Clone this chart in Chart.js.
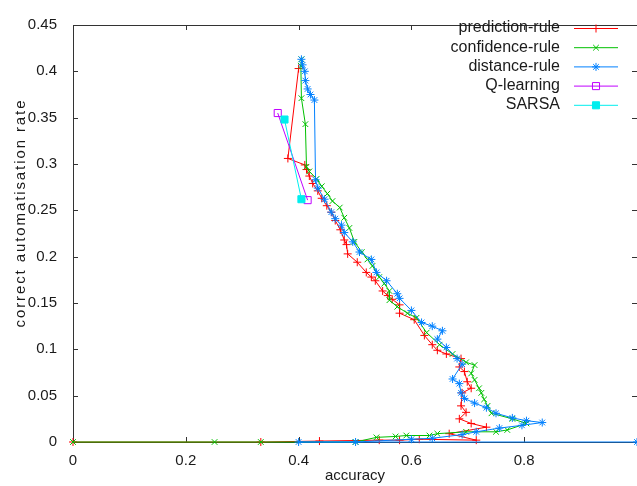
<!DOCTYPE html>
<html lang="en">
<head>
<meta charset="UTF-8">
<title>Accuracy vs correct automatisation rate</title>
<script src="https://cdn.jsdelivr.net/npm/chart.js"></script>
<style>
  html, body { margin: 0; padding: 0; background: #fff; }
  #wrap { width: 637px; height: 486px; }
</style>
</head>
<body>
<div id="wrap"><canvas id="chart" width="637" height="486"></canvas></div>
<script>
// values
const seriesNames = ['prediction-rule', 'confidence-rule', 'distance-rule', 'Q-learning', 'SARSA'];
const seriesColors = ['#ff0000', '#00c000', '#0080ff', '#c000ff', '#00eeee'];

const predictionAcc = [0.400, 0.381, 0.411, 0.414, 0.419, 0.425, 0.434, 0.441, 0.450, 0.458, 0.465, 0.474, 0.481, 0.485, 0.487, 0.504, 0.520, 0.529, 0.536, 0.549, 0.558, 0.566, 0.579, 0.579, 0.605, 0.623, 0.637, 0.646, 0.662, 0.688, 0.685, 0.694, 0.699, 0.706, 0.690, 0.688, 0.697, 0.685, 0.706, 0.733, 0.667, 0.715, 0.614, 0.579, 0.543, 0.437, 0.333, 0];
const predictionRate = [0.403, 0.306, 0.299, 0.294, 0.287, 0.279, 0.271, 0.263, 0.255, 0.248, 0.239, 0.229, 0.218, 0.213, 0.203, 0.194, 0.183, 0.178, 0.174, 0.163, 0.158, 0.154, 0.148, 0.139, 0.132, 0.115, 0.105, 0.099, 0.095, 0.090, 0.081, 0.076, 0.065, 0.058, 0.053, 0.039, 0.032, 0.025, 0.020, 0.016, 0.009, 0.002, 0.003, 0.002, 0.002, 0.001, 0, 0];

const confidenceAcc = [0.405, 0.404, 0.405, 0.412, 0.414, 0.419, 0.432, 0.441, 0.451, 0.460, 0.473, 0.481, 0.490, 0.499, 0.512, 0.522, 0.531, 0.543, 0.552, 0.561, 0.561, 0.575, 0.593, 0.609, 0.627, 0.650, 0.673, 0.697, 0.712, 0.706, 0.712, 0.720, 0.724, 0.729, 0.735, 0.742, 0.779, 0.804, 0.770, 0.750, 0.697, 0.646, 0.632, 0.591, 0.572, 0.538, 0.501, 0.333, 0.251, 0];
const confidenceRate = [0.413, 0.406, 0.371, 0.343, 0.297, 0.292, 0.284, 0.276, 0.268, 0.260, 0.253, 0.242, 0.231, 0.216, 0.205, 0.197, 0.190, 0.178, 0.171, 0.163, 0.153, 0.146, 0.139, 0.134, 0.118, 0.105, 0.095, 0.086, 0.083, 0.074, 0.067, 0.058, 0.053, 0.046, 0.039, 0.031, 0.025, 0.020, 0.013, 0.011, 0.011, 0.009, 0.007, 0.007, 0.006, 0.005, 0, 0, 0, 0];

const distanceAcc = [0.405, 0.407, 0.411, 0.412, 0.416, 0.421, 0.428, 0.430, 0.434, 0.446, 0.458, 0.465, 0.476, 0.481, 0.496, 0.508, 0.529, 0.538, 0.556, 0.575, 0.579, 0.600, 0.618, 0.637, 0.655, 0.646, 0.662, 0.681, 0.690, 0.673, 0.685, 0.688, 0.694, 0.712, 0.733, 0.750, 0.779, 0.804, 0.832, 0.796, 0.756, 0.715, 0.690, 0.637, 0.600, 0.501, 0.400, 1.0];
const distanceRate = [0.413, 0.407, 0.400, 0.390, 0.381, 0.375, 0.369, 0.283, 0.274, 0.262, 0.248, 0.241, 0.234, 0.226, 0.216, 0.205, 0.197, 0.183, 0.174, 0.160, 0.155, 0.142, 0.129, 0.125, 0.120, 0.111, 0.102, 0.090, 0.084, 0.068, 0.063, 0.053, 0.047, 0.042, 0.037, 0.031, 0.026, 0.023, 0.021, 0.018, 0.015, 0.011, 0.008, 0.004, 0.003, 0, 0, 0];

const qlearningAcc = [0.363, 0.416];
const qlearningRate = [0.355, 0.261];

const sarsaAcc = [0.375, 0.405];
const sarsaRate = [0.348, 0.262];

const xTicks = [0, 0.2, 0.4, 0.6, 0.8, 1];
const yTicks = [0, 0.05, 0.1, 0.15, 0.2, 0.25, 0.3, 0.35, 0.4, 0.45];
const yTitle = 'correct automatisation rate';

const FONT = 'Liberation Sans, Arial, sans-serif';
const TEXT = '#1a1a1a';

function toPoints(xs, ys) {
    return xs.map((x, i) => ({ x: x, y: ys[i] }));
}

function makeSet(i, xs, ys, style, extra) {
    return Object.assign({
        label: seriesNames[i],
        data: toPoints(xs, ys),
        showLine: true,
        borderColor: seriesColors[i],
        backgroundColor: seriesColors[i],
        borderWidth: 1,
        pointStyle: style,
        pointRadius: 4,
        pointHoverRadius: 4,
        pointBorderWidth: 1,
        clip: false,
        order: 5 - i
    }, extra || {});
}

// gnuplot style box with inward ticks on every side
const framePlugin = {
    id: 'frame',
    beforeDatasetsDraw(chart) {
        const { ctx, chartArea: a, scales: { x, y } } = chart;
        ctx.save();
        ctx.strokeStyle = '#333';
        ctx.lineWidth = 1;
        ctx.strokeRect(a.left + 0.5, a.top + 0.5, a.right - a.left, a.bottom - a.top);
        ctx.beginPath();
        xTicks.forEach(v => {
            const px = Math.round(x.getPixelForValue(v)) + 0.5;
            ctx.moveTo(px, a.bottom); ctx.lineTo(px, a.bottom - 5);
            ctx.moveTo(px, a.top); ctx.lineTo(px, a.top + 5);
        });
        yTicks.forEach(v => {
            const py = Math.round(y.getPixelForValue(v)) + 0.5;
            ctx.moveTo(a.left, py); ctx.lineTo(a.left + 5, py);
            ctx.moveTo(a.right, py); ctx.lineTo(a.right - 5, py);
        });
        ctx.stroke();

        // y title, drawn here because gnuplot spaces the rotated letters out
        ctx.font = '15px ' + FONT;
        ctx.fillStyle = TEXT;
        ctx.textBaseline = 'middle';
        ctx.translate(21, 214);
        ctx.rotate(-Math.PI / 2);
        const gap = 1.9;
        const widths = Array.from(yTitle).map(ch => ctx.measureText(ch).width);
        const total = widths.reduce((s, w) => s + w, 0) + gap * (widths.length - 1);
        let pos = -total / 2;
        ctx.textAlign = 'left';
        Array.from(yTitle).forEach((ch, i) => {
            ctx.fillText(ch, pos, 0);
            pos += widths[i] + gap;
        });
        ctx.restore();
    }
};

// key in the top right corner: text, then a line sample with its marker
const keyPlugin = {
    id: 'key',
    afterDatasetsDraw(chart) {
        const ctx = chart.ctx;
        ctx.save();
        ctx.font = '16px ' + FONT;
        ctx.textAlign = 'right';
        ctx.textBaseline = 'middle';
        chart.data.datasets.forEach((ds, i) => {
            const yy = 28 + i * 19.2;
            ctx.fillStyle = TEXT;
            ctx.fillText(ds.label, 560, yy);
            ctx.strokeStyle = ds.borderColor;
            ctx.lineWidth = 1;
            ctx.beginPath();
            ctx.moveTo(574, yy + 0.5);
            ctx.lineTo(618, yy + 0.5);
            ctx.stroke();
            ctx.fillStyle = ds.pointBackgroundColor || ds.backgroundColor;
            Chart.helpers.drawPoint(ctx, { pointStyle: ds.pointStyle, radius: ds.pointRadius, borderWidth: 1, rotation: 0 }, 596, yy + 0.5);
        });
        ctx.restore();
    }
};

new Chart(document.getElementById('chart'), {
    type: 'scatter',
    data: {
        datasets: [
            makeSet(0, predictionAcc, predictionRate, 'cross'),
            makeSet(1, confidenceAcc, confidenceRate, 'crossRot'),
            makeSet(2, distanceAcc, distanceRate, 'star'),
            makeSet(3, qlearningAcc, qlearningRate, 'rect', { pointRadius: 5, pointBackgroundColor: 'rgba(0,0,0,0)' }),
            makeSet(4, sarsaAcc, sarsaRate, 'rect', { pointRadius: 5 })
        ]
    },
    options: {
        responsive: false,
        animation: false,
        devicePixelRatio: 1,
        layout: { autoPadding: false, padding: { top: 15, right: 0, left: 0, bottom: 0 } },
        plugins: {
            legend: { display: false },
            tooltip: { enabled: false }
        },
        scales: {
            x: {
                type: 'linear',
                min: 0,
                max: 1,
                grid: { display: false, drawTicks: false },
                border: { display: false },
                afterFit: s => { s.height = 44; s.paddingRight = 0; s.paddingLeft = 0; },
                afterBuildTicks: s => { s.ticks = xTicks.map(v => ({ value: v })); },
                ticks: {
                    padding: 10,
                    color: TEXT,
                    font: { family: FONT, size: 15 },
                    callback: v => v >= 1 ? '' : String(+v.toFixed(1))
                },
                title: {
                    display: true,
                    text: 'accuracy',
                    color: TEXT,
                    font: { family: FONT, size: 15 },
                    padding: { top: 0, bottom: 1 }
                }
            },
            y: {
                type: 'linear',
                min: 0,
                max: 0.45,
                grid: { display: false, drawTicks: false },
                border: { display: false },
                afterFit: s => { s.width = 73; },
                afterBuildTicks: s => { s.ticks = yTicks.map(v => ({ value: v })); },
                ticks: {
                    padding: 16,
                    color: TEXT,
                    font: { family: FONT, size: 15 },
                    callback: v => String(+v.toFixed(2))
                }
            }
        }
    },
    plugins: [framePlugin, keyPlugin]
});
</script>
</body>
</html>
